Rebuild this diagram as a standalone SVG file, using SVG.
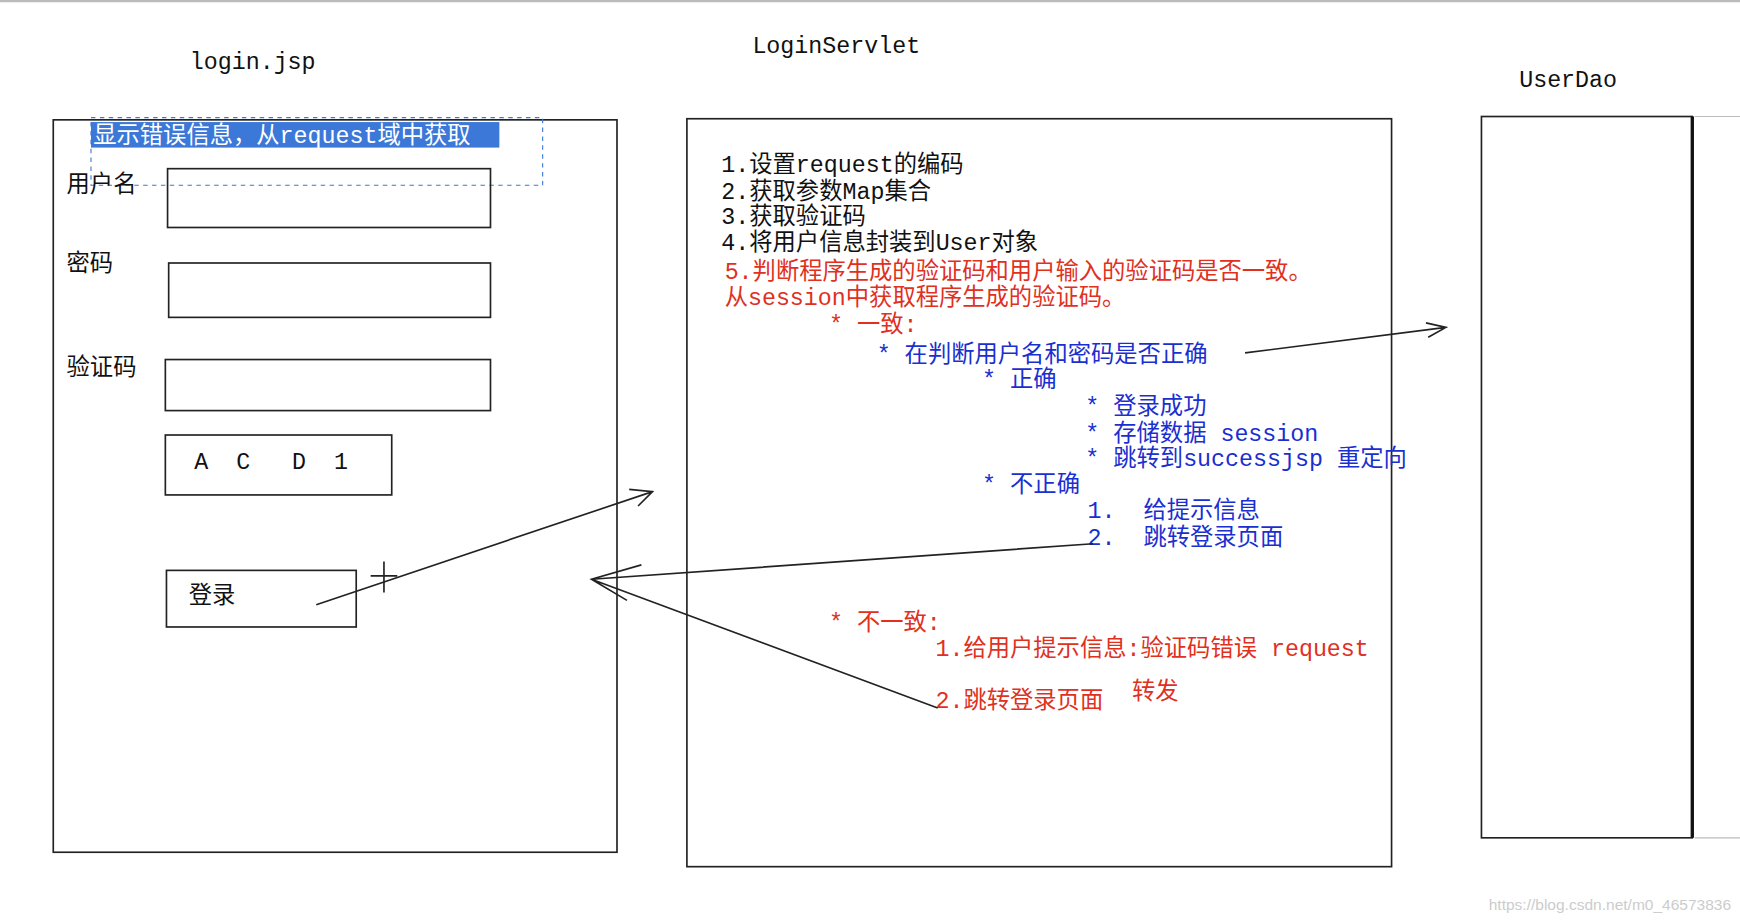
<svg xmlns="http://www.w3.org/2000/svg" width="1740" height="921" viewBox="0 0 1740 921">
<style>
.t{font-family:"Liberation Mono","Noto Sans CJK SC",monospace;font-size:21px}
.k{fill:#111}.r{fill:#e0301e}.b{fill:#1a2fd0}
.box{fill:none;stroke:#222;stroke-width:1.5}
.ln{fill:none;stroke:#222;stroke-width:1.5}
</style>
<rect width="1740" height="921" fill="#fff"/>
<g transform="scale(1.1097)">
<line x1="0" y1="1" x2="1568" y2="1" stroke="#bbb" stroke-width="2"/>
<text class="t k" x="171" y="62">login.jsp</text>
<text class="t k" x="678" y="48">LoginServlet</text>
<text class="t k" x="1369" y="78">UserDao</text>
<g id="login">
<rect class="box" x="48" y="108" width="508" height="660"/>
<rect x="82" y="110" width="368" height="23" fill="#3b78d8"/>
<text class="t" x="84" y="129" fill="#fff">显示错误信息，从request域中获取</text>
<rect x="82" y="106" width="407" height="61" fill="none" stroke="#3b78d8" stroke-dasharray="4 4"/>
<text class="t k" x="60" y="173">用户名</text>
<rect class="box" x="151" y="152" width="291" height="53"/>
<text class="t k" x="60" y="244">密码</text>
<rect class="box" x="152" y="237" width="290" height="49"/>
<text class="t k" x="60" y="338">验证码</text>
<rect class="box" x="149" y="324" width="293" height="46"/>
<rect class="box" x="149" y="392" width="204" height="54"/>
<text class="t k" x="175" y="423" xml:space="preserve">A  C   D  1</text>
<rect class="box" x="150" y="514" width="171" height="51"/>
<text class="t k" x="170" y="543">登录</text>
</g>
<g id="servlet">
<rect class="box" x="619" y="107" width="635" height="674"/>
<text class="t k" x="650" y="155">1.设置request的编码</text>
<text class="t k" x="650" y="179">2.获取参数Map集合</text>
<text class="t k" x="650" y="202">3.获取验证码</text>
<text class="t k" x="650" y="225">4.将用户信息封装到User对象</text>
<text class="t r" x="653" y="251">5.判断程序生成的验证码和用户输入的验证码是否一致。</text>
<text class="t r" x="653" y="275">从session中获取程序生成的验证码。</text>
<text class="t r" x="747" y="299">* 一致:</text>
<text class="t b" x="790" y="326">* 在判断用户名和密码是否正确</text>
<text class="t b" x="885" y="349">* 正确</text>
<text class="t b" x="978" y="373">* 登录成功</text>
<text class="t b" x="978" y="397">* 存储数据 session</text>
<text class="t b" x="978" y="420">* 跳转到successjsp 重定向</text>
<text class="t b" x="885" y="443">* 不正确</text>
<text class="t b" x="980" y="467" xml:space="preserve">1.  给提示信息</text>
<text class="t b" x="980" y="491" xml:space="preserve">2.  跳转登录页面</text>
<text class="t r" x="747" y="568">* 不一致:</text>
<text class="t r" x="843" y="591">1.给用户提示信息:验证码错误 request</text>
<text class="t r" x="843" y="638">2.跳转登录页面</text>
<text class="t r" x="1020" y="630">转发</text>
</g>
<g id="userdao">
<rect class="box" x="1335" y="105" width="190" height="650"/>
<line x1="1525" y1="105" x2="1525" y2="755" stroke="#111" stroke-width="3"/>
<line x1="1527" y1="105" x2="1568" y2="105" stroke="#bbb"/>
<line x1="1527" y1="755" x2="1568" y2="755" stroke="#bbb"/>
</g>
<g id="connectors">
<path class="ln" d="M285 545 L588 443 M567 441 L588 443 L575 456"/>
<path class="ln" d="M1122 318 L1303 295 M1285 291 L1303 295 L1287 304"/>
<path class="ln" d="M985 490 L533 522 L845 638 M578 509 L533 522 L565 541"/>
<path d="M346 506 V534 M334 519 H358" stroke="#222" stroke-width="1.5"/>
</g>
<text x="1560" y="820" text-anchor="end" font-family="Liberation Sans,sans-serif" font-size="14" fill="#ccc">https://blog.csdn.net/m0_46573836</text>
</g>
</svg>
